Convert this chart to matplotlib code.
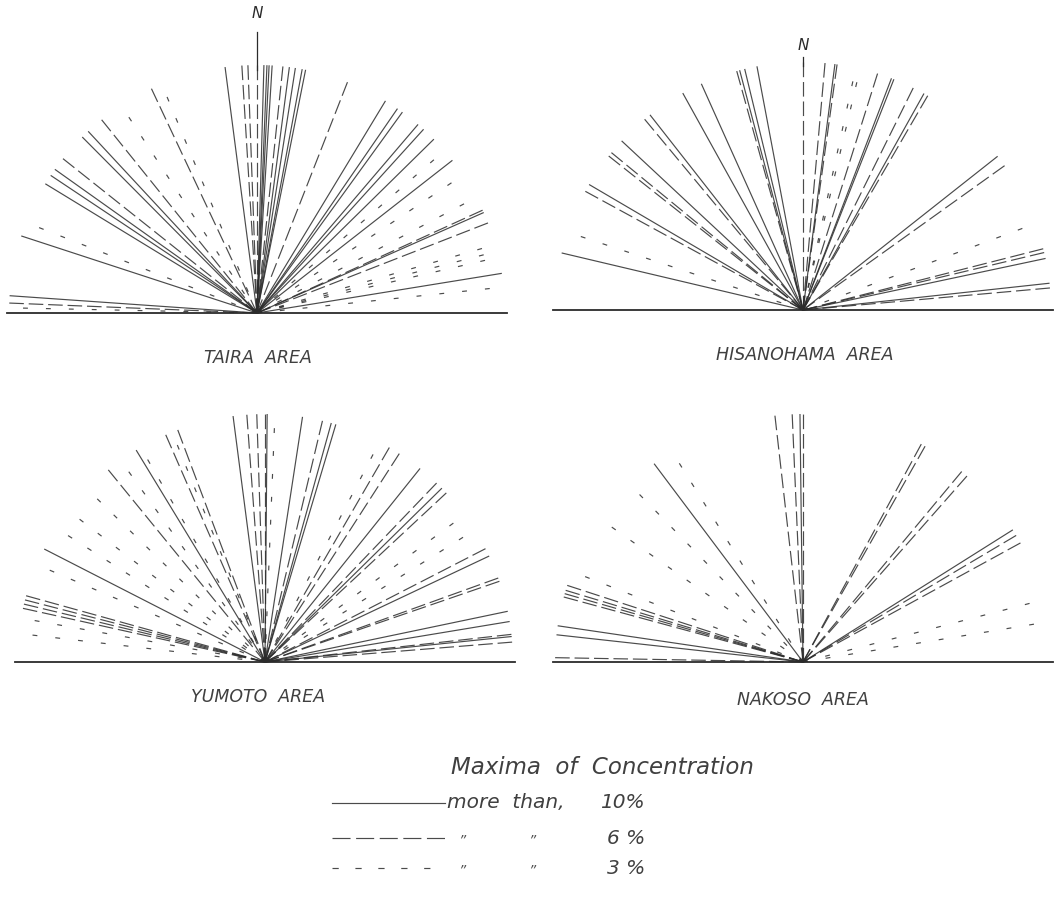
import numpy as np
import matplotlib.pyplot as plt

plt.rcParams['lines.scale_dashes'] = False

# azimuths in degrees from north, east positive
taira_solid = [-86, -71.9, -58.6, -56.3, -54.6, -44.8, -42.9, -7.4, 1.6, 2.3, 2.8, 3.5,
               7.5, 8.9, 10.5, 11.3, 31.2, 34.5, 35.9, 40.5, 42.2, 45.5, 52, 66.1, 80.8]
taira_6 = [-87.7, -51.5, -38.8, -25.2, -3.5, -2.1, 0, 6, 21.4, 65.5, 68.7]
taira_3 = [-88.8, -68.6, -33.2, -22.6, 49.1, 56.2, 62.2, 74, 75.6, 77, 84]

hisa_solid = [-76.7, -59.6, -47, -38.1, -29, -24.2, -13.6, -14.8, -10.7,
              7.4, 20.9, 21.5, 29.2, 51.7, 78, 83.8]
hisa_6 = [-61.4, -51.6, -50.6, -39.7, -15.5, 0, 5.1, 7.9, 17.5, 26.4, 30.2, 54.4,
          75.7, 76.6, 84.9]
hisa_3 = [-71.7, 12.3, 13.3, 69.6]

yumo_solid = [-62.9, -31.3, -7.4, 0.5, 8.7, 15.5, 16.6, 38.7, 45.5, 64.7, 78.2, 80.6, 84.1]
yumo_6 = [-77.5, -76.5, -75.5, -74.5, -39.2, -23.6, -20.6, -4.2, -1.9, 0, 13.4, 30.1,
          32.8, 43.8, 47, 62.8, 70.2, 71, 83.6, 85.4]
yumo_3 = [-83.4, -79.8, -66.9, -57.3, -52.4, -45.8, -35.6, -30.1, -22, 2.3, 27.5,
          53.6, 57.8]

nako_solid = [-83.7, -81.6, -36.9, -0.7, 57.8]
nako_6 = [-89, -74.8, -74, -73.2, -72, -6.5, -2.5, 0, 28.5, 29.5, 39.8, 41.4, 59.3, 61.3]
nako_3 = [-68.6, -54.8, -44.3, -31.9, 75.5, 80.7]

areas = ['TAIRA  AREA', 'HISANOHAMA  AREA', 'YUMOTO  AREA', 'NAKOSO  AREA']
legend_title = 'Maxima  of  Concentration'
legend_pcts = ['10%', '6 %', '3 %']

INK = '#2b2b2b'
TXT = '#404040'
R = 248
DASH6 = (0, (10.5, 3.5))
DASH3 = (0, (3.5, 13))


def rose(ax, cx, cy, solid, d6, d3):
    for angles, ls in ((d3, DASH3), (d6, DASH6), (solid, '-')):
        for a in angles:
            t = np.radians(a)
            ax.plot([cx, cx + R * np.sin(t)], [cy, cy - R * np.cos(t)],
                    color=INK, lw=0.85, ls=ls, alpha=0.85, solid_capstyle='butt')
    # base line E-W
    ax.plot([cx - R - 2, cx + R + 2], [cy, cy], color=INK, lw=1.3)


fig = plt.figure(figsize=(10.55, 8.98), dpi=100)
ax = fig.add_axes([0, 0, 1, 1])
ax.set_xlim(0, 1055)
ax.set_ylim(898, 0)
ax.axis('off')

centers = [(257, 313), (803, 310), (265, 662), (803, 662)]
data = [(taira_solid, taira_6, taira_3), (hisa_solid, hisa_6, hisa_3),
        (yumo_solid, yumo_6, yumo_3), (nako_solid, nako_6, nako_3)]
label_pos = [(258, 358), (805, 355), (258, 697), (803, 700)]

for (cx, cy), (s, d6, d3), name, (lx, ly) in zip(centers, data, areas, label_pos):
    rose(ax, cx, cy, s, d6, d3)
    ax.text(lx, ly, name, ha='center', va='center', fontsize=12.5,
            style='italic', color=TXT)

# north marks
ax.plot([257, 257], [32, 70], color=INK, lw=0.9)
ax.text(257, 13, 'N', ha='center', va='center', fontsize=11, style='italic', color=INK)
ax.plot([803, 803], [57, 66], color=INK, lw=0.9)
ax.text(803, 45, 'N', ha='center', va='center', fontsize=11, style='italic', color=INK)

# legend
ax.text(602, 768, legend_title, ha='center', va='center', fontsize=16.5,
        style='italic', color=TXT)
rows_y = [803, 838, 868]
styles = ['-', (0, (13, 4)), (0, (4.5, 12))]
for i, (y, ls, pct) in enumerate(zip(rows_y, styles, legend_pcts)):
    ax.plot([332, 445], [y, y], color=INK, lw=0.85, ls=ls, alpha=0.85)
    ax.text(645, y, pct, ha='right', va='center', fontsize=14.5, style='italic', color=TXT)
    if i == 0:
        ax.text(447, y, 'more  than,', ha='left', va='center', fontsize=14.5,
                style='italic', color=TXT)
    else:
        ax.text(462, y + 2, '\u201d', ha='center', va='center', fontsize=10, style='italic', color='#555')
        ax.text(532, y + 2, '\u201d', ha='center', va='center', fontsize=10, style='italic', color='#555')

fig.savefig('out.png', dpi=100, facecolor='white')
